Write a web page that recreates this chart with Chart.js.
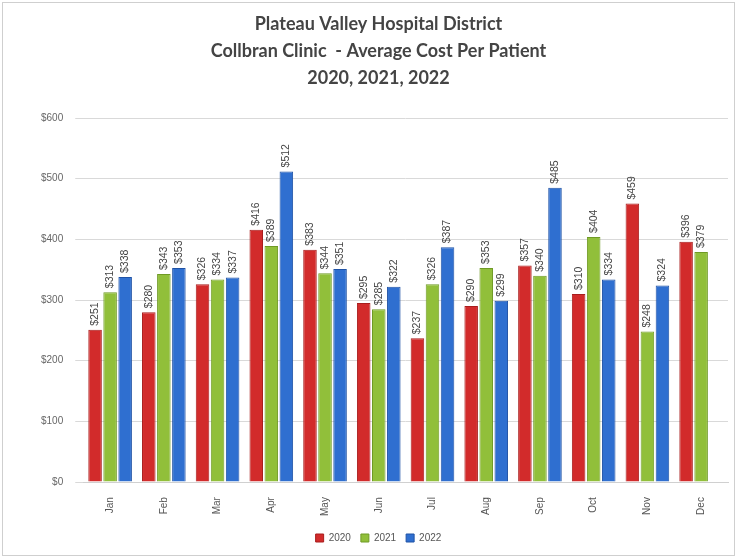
<!DOCTYPE html>
<html>
<head>
<meta charset="utf-8">
<script src="https://cdn.jsdelivr.net/npm/chart.js@4"></script>
<style>
  html, body { margin: 0; padding: 0; background: #fff; }
  #wrap { position: absolute; left: 2px; top: 2px; width: 733px; height: 554px; border: 1px solid #cfcfcf; box-sizing: border-box; }
  canvas { display: block; }
</style>
</head>
<body>
<div id="wrap"><canvas id="chart"></canvas></div>
<script>
// months and average cost per patient
const months = ["Jan", "Feb", "Mar", "Apr", "May", "Jun", "Jul", "Aug", "Sep", "Oct", "Nov", "Dec"];
const cost2020 = [251, 280, 326, 416, 383, 295, 237, 290, 357, 310, 459, 396];
const cost2021 = [313, 343, 334, 389, 344, 285, 326, 353, 340, 404, 248, 379];
const cost2022 = [338, 353, 337, 512, 351, 322, 387, 299, 485, 334, 324, null];
const yTicks = [0, 100, 200, 300, 400, 500, 600];

// draws the rotated $ value above each bar
const barLabels = {
    id: 'barLabels',
    afterDatasetsDraw(chart) {
        const ctx = chart.ctx;
        ctx.save();
        ctx.font = "10.5px 'Liberation Sans', sans-serif";
        ctx.fillStyle = '#444';
        ctx.textAlign = 'left';
        ctx.textBaseline = 'middle';
        chart.data.datasets.forEach((ds, i) => {
            const meta = chart.getDatasetMeta(i);
            meta.data.forEach((bar, j) => {
                const v = ds.data[j];
                if (v == null) return;
                ctx.save();
                ctx.translate(bar.x, bar.y - 4);
                ctx.rotate(-Math.PI / 2);
                ctx.fillText('$' + v, 0, 0);
                ctx.restore();
            });
        });
        ctx.restore();
    }
};

new Chart(document.getElementById('chart'), {
    type: 'bar',
    data: {
        labels: months,
        datasets: [
            { label: '2020', data: cost2020, backgroundColor: '#d22b2b', borderColor: '#a81d1d', borderWidth: 1 },
            { label: '2021', data: cost2021, backgroundColor: '#91bf3a', borderColor: '#6f9a25', borderWidth: 1 },
            { label: '2022', data: cost2022, backgroundColor: '#2f6fd0', borderColor: '#1f52a5', borderWidth: 1 }
        ]
    },
    options: {
        responsive: true,
        maintainAspectRatio: false,
        animation: false,
        layout: { padding: { left: 26, right: 6, top: 0, bottom: 2 } },
        datasets: { bar: { categoryPercentage: 0.84, barPercentage: 0.9 } },
        scales: {
            x: {
                grid: { display: false },
                border: { color: '#d0d0d0' },
                ticks: {
                    color: '#555',
                    font: { family: "'Liberation Sans', sans-serif", size: 10 },
                    maxRotation: 90,
                    minRotation: 90,
                    padding: 7
                }
            },
            y: {
                min: 0,
                max: 600,
                afterBuildTicks(axis) { axis.ticks = yTicks.map(v => ({ value: v })); },
                grid: { color: '#d9d9d9' },
                border: { display: false },
                ticks: {
                    color: '#666',
                    font: { family: "'Liberation Sans', sans-serif", size: 10 },
                    padding: 12,
                    callback: v => '$' + v
                }
            }
        },
        plugins: {
            title: {
                display: true,
                text: ['Plateau Valley Hospital District', 'Collbran Clinic  - Average Cost Per Patient', '2020, 2021, 2022'],
                color: '#444',
                font: { family: "Lato, sans-serif", size: 18, weight: 'bold', lineHeight: 1.5 },
                padding: { top: 8, bottom: 26 }
            },
            legend: {
                position: 'bottom',
                labels: {
                    color: '#555',
                    boxWidth: 8,
                    boxHeight: 8,
                    padding: 10,
                    font: { family: "'Liberation Sans', sans-serif", size: 10 }
                }
            },
            tooltip: { enabled: false }
        }
    },
    plugins: [barLabels]
});
</script>
</body>
</html>
